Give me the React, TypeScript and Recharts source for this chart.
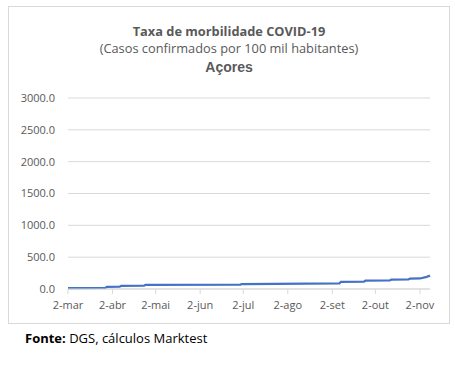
import { LineChart, Line, XAxis, YAxis, CartesianGrid } from "recharts";

// days since 2-mar-2020
const days = [0, 26, 27, 36, 37, 53, 54, 120, 121, 189, 190, 206, 207, 224, 225, 237, 238, 245, 249, 252];
// cases per 100k inhabitants
const rates = [15, 18, 33, 36, 50, 53, 66, 70, 78, 90, 113, 116, 130, 134, 146, 150, 162, 165, 185, 210];

const tickDays = [0, 31, 61, 92, 122, 153, 184, 214, 245];
const tickLabels = ["2-mar", "2-abr", "2-mai", "2-jun", "2-jul", "2-ago", "2-set", "2-out", "2-nov"];
const yTicks = [0, 500, 1000, 1500, 2000, 2500, 3000];

const data = days.map((d, i) => ({ day: d, rate: rates[i] }));

const gray = "#595959";

export default function App() {
  return (
    <div
      style={{
        position: "absolute",
        left: 0,
        top: 0,
        width: 455,
        height: 366,
        background: "#fff",
        fontFamily: "'Open Sans', sans-serif",
      }}
    >
      {/* frame */}
      <div
        style={{
          position: "absolute",
          left: 8,
          top: 6,
          width: 440,
          height: 316,
          border: "1px solid #d9d9d9",
        }}
      />

      {/* titles */}
      <div
        style={{
          position: "absolute",
          left: 0,
          width: 458,
          top: 24,
          lineHeight: "14px",
          textAlign: "center",
          color: gray,
          fontSize: 12.8,
          fontWeight: 700,
        }}
      >
        Taxa de morbilidade COVID-19
      </div>
      <div
        style={{
          position: "absolute",
          left: 0,
          width: 458,
          top: 41,
          lineHeight: "14px",
          textAlign: "center",
          color: gray,
          fontSize: 12.8,
        }}
      >
        (Casos confirmados por 100 mil habitantes)
      </div>
      <div
        style={{
          position: "absolute",
          left: 0,
          width: 458,
          top: 59,
          lineHeight: "16px",
          textAlign: "center",
          color: gray,
          fontSize: 14,
          fontWeight: 700,
          fontFamily: "'Liberation Sans', Arial, sans-serif",
        }}
      >
        Açores
      </div>

      <div style={{ position: "absolute", left: 0, top: 0 }}>
        <LineChart
          width={455}
          height={366}
          data={data}
          margin={{ top: 98, right: 25, left: 0, bottom: 47 }}
        >
          <CartesianGrid horizontal={true} vertical={false} stroke="#d9d9d9" />
          <XAxis
            dataKey="day"
            type="number"
            domain={[0, 252]}
            ticks={tickDays}
            tickFormatter={(v) => tickLabels[tickDays.indexOf(v)] ?? ""}
            interval={0}
            height={30}
            tickSize={5}
            tickMargin={7}
            axisLine={{ stroke: "#d9d9d9" }}
            tickLine={{ stroke: "#d9d9d9" }}
            tick={{ fill: gray, fontSize: 11, fontFamily: "'Open Sans', sans-serif" }}
          />
          <YAxis
            type="number"
            domain={[0, 3000]}
            ticks={yTicks}
            tickFormatter={(v) => v.toFixed(1)}
            width={68}
            tickSize={0}
            tickMargin={13}
            axisLine={false}
            tickLine={false}
            tick={{ fill: gray, fontSize: 11, fontFamily: "'Open Sans', sans-serif" }}
          />
          <Line
            type="linear"
            dataKey="rate"
            stroke="#4472C4"
            strokeWidth={2.25}
            dot={false}
            isAnimationActive={false}
          />
        </LineChart>
      </div>

      {/* source */}
      <div
        style={{
          position: "absolute",
          left: 25,
          top: 329,
          lineHeight: "18px",
          color: "#000",
          fontSize: 13,
        }}
      >
        <b>Fonte:</b> DGS, cálculos Marktest
      </div>
    </div>
  );
}
